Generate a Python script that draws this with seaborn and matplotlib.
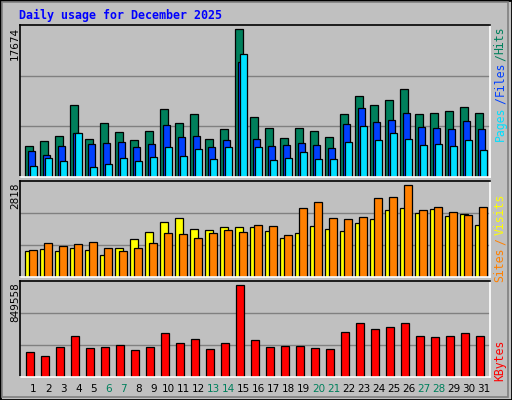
import matplotlib
matplotlib.use("Agg")
import matplotlib.pyplot as plt
import seaborn as sns
import numpy as np
from matplotlib.patches import Rectangle

days = list(range(1, 32))
weekend = [6, 7, 13, 14, 20, 21, 27, 28]
hits = [3680,4360,4960,8680,4600,6520,5440,4480,5560,8200,6520,7600,4600,5800,17674,7240,5920,4720,5920,5560,4840,7600,9640,8680,9160,10480,7600,7720,7960,8440,7720]
files = [3160,2680,3680,5320,4000,4120,4240,3640,4000,6280,4840,4960,3640,4480,13760,4600,3760,3880,4120,3880,3520,6400,8320,6640,6880,7720,6040,5920,5800,6760,5800]
pages = [1360,2320,1960,5320,1240,1600,2320,1960,2440,3640,2560,3400,2200,3640,14680,3640,2080,2320,3040,2200,2200,4240,6160,4480,5320,4600,3880,4000,3760,4480,3280]
sites = [796,858,796,888,827,674,888,1164,1378,1685,1807,1470,1440,1532,1532,1532,1409,1195,1348,1562,1470,1409,1654,1777,2052,2113,1960,2083,1869,1930,1593]
visits = [827,1041,950,1011,1072,888,796,888,1041,1348,1317,1195,1348,1440,1378,1593,1562,1287,2113,2297,1807,1777,1838,2420,2450,2818,2052,2144,1991,1899,2144]
kbytes = [226344,189137,272854,375174,263552,272854,291457,244951,272854,403077,310060,347266,254249,310060,849558,337964,272854,282155,282155,263552,254249,412379,496096,440285,458888,496096,375174,365872,375174,403077,375174]

sns.set_theme(style="white")
plt.rcParams['font.family'] = ['DejaVu Sans Mono', 'DejaVu Sans']

W, H = 512, 400
fig = plt.figure(figsize=(W/100, H/100), dpi=100)
fig.patch.set_facecolor("#C0C0C0")

def fx(px): return px / W
def fy(py): return 1 - py / H

fig.patches.append(Rectangle((0, 0), 1, 1, transform=fig.transFigure, fill=False, ec="black", lw=2))
fig.patches.append(Rectangle((fx(2), fy(397)), fx(506), 395/H, transform=fig.transFigure, fill=False, ec="#808080", lw=1.2))

def panel(top, bottom):
    ax = fig.add_axes([fx(20), fy(bottom), fx(470), (bottom - top)/H])
    ax.set_facecolor("#C0C0C0")
    for s in ["left", "top"]:
        ax.spines[s].set_color("black")
    for s in ["right", "bottom"]:
        ax.spines[s].set_color("white")
    for s in ax.spines.values():
        s.set_linewidth(1.2)
    ax.set_xlim(0, 470)
    ax.set_xticks([]); ax.set_yticks([])
    return ax

x0 = np.array([5 + (d - 1) * 15 for d in days], dtype=float)
kw = dict(align="edge", edgecolor="black", linewidth=0.9)

ax1 = panel(25, 177)
top1 = 18200
ax1.set_ylim(0, top1)
for g in (top1/3, 2*top1/3):
    ax1.axhline(g, color="#808080", lw=1, zorder=0)
ax1.bar(x0, hits, width=7.5, color="#00805C", **kw)
ax1.bar(x0 + 2.5, files, width=7.5, color="#0040FF", **kw)
ax1.bar(x0 + 4.5, pages, width=7.5, color="#00E0FF", **kw)

ax2 = panel(181, 277)
top2 = 2930
ax2.set_ylim(0, top2)
for g in (top2/3, 2*top2/3):
    ax2.axhline(g, color="#808080", lw=1, zorder=0)
ax2.bar(x0, sites, width=7.5, color="#FFFF00", **kw)
ax2.bar(x0 + 4, visits, width=7.5, color="#FF8000", **kw)

ax3 = panel(281, 377)
top3 = 883700
ax3.set_ylim(0, top3)
for g in (top3/3, 2*top3/3):
    ax3.axhline(g, color="#808080", lw=1, zorder=0)
ax3.bar(x0 + 1, kbytes, width=7.5, color="#FF0000", **kw)

fig.text(fx(19), fy(15), "Daily usage for December 2025", color="#0000FF",
         fontsize=8.4, fontweight="bold", va="center", ha="left")

for txt, ytop in [("17674", 27), ("2818", 182), ("849558", 282)]:
    fig.text(fx(15), fy(ytop), txt, rotation=90, fontsize=7.5, color="black",
             ha="center", va="top", family="DejaVu Sans")

for txt, yc, col in [("Hits", 40, "#00805C"), ("/", 58, "#00805C"), ("Files", 79, "#0040FF"),
                     ("/", 101, "#0040FF"), ("Pages", 124, "#00E0FF"),
                     ("Visits", 214, "#FFFF00"), ("/", 242, "#FF8000"), ("Sites", 265, "#FF8000"),
                     ("KBytes", 360, "#FF0000")]:
    fig.text(fx(500), fy(yc), txt, rotation=90, fontsize=8.3, color=col, ha="center", va="center")

for d, xx in zip(days, x0):
    col = "#00805C" if d in weekend else "black"
    fig.text(fx(20 + xx + 8.5), fy(389), str(d), fontsize=7.5, color=col, ha="center",
             va="center", family="DejaVu Sans")

fig.savefig("out.png", dpi=100, facecolor=fig.get_facecolor())
